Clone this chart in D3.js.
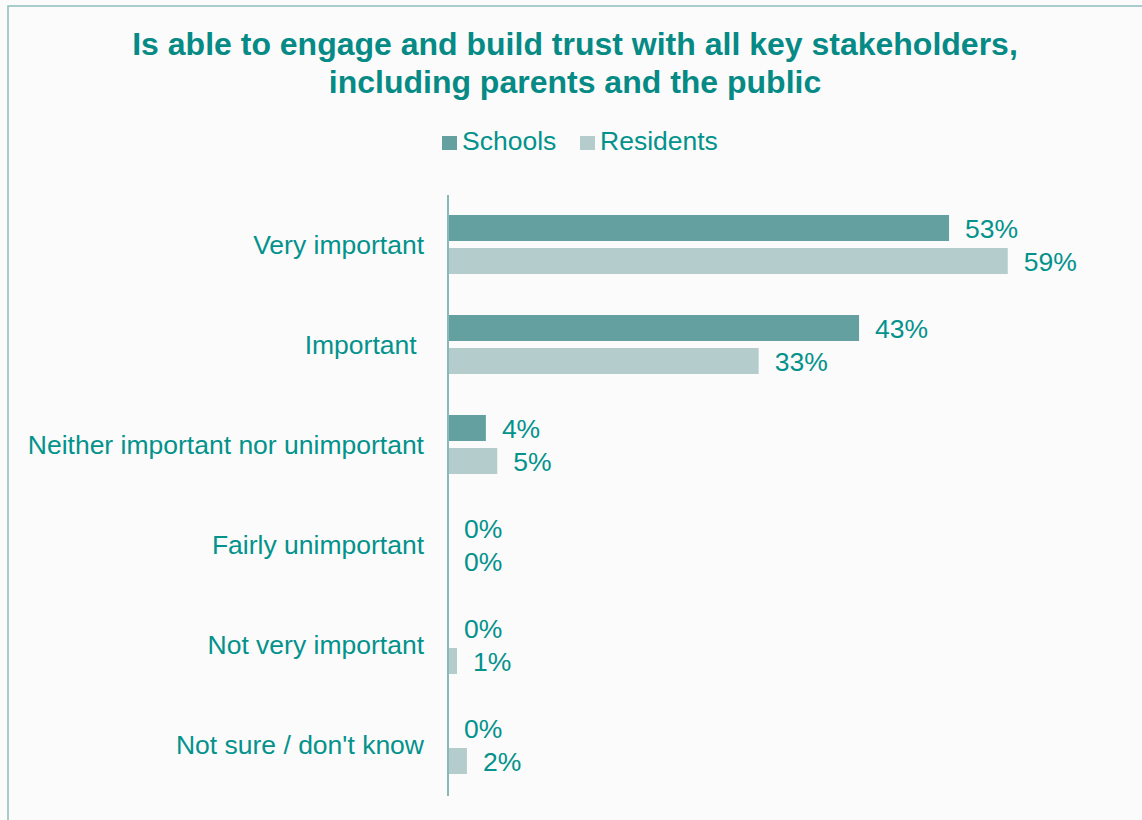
<!DOCTYPE html>
<html>
<head>
<meta charset="utf-8">
<script src="https://cdn.jsdelivr.net/npm/d3@7"></script>
<style>
  body { margin: 0; background: #fbfbfb; }
  svg { display: block; font-family: "Liberation Sans", Arial, sans-serif; }
  text { white-space: pre; }
</style>
</head>
<body>
<svg id="chart" width="1142" height="820"></svg>
<script>
// chart data (bar lengths, labels show rounded %)
const categories = ["Very important", "Important ", "Neither important nor unimportant",
    "Fairly unimportant", "Not very important", "Not sure / don't know"];
const seriesNames = ["Schools", "Residents"];
const schools = [52.9, 43.4, 4.0, 0, 0, 0];
const residents = [59.1, 32.8, 5.2, 0, 0.95, 2.0];
const titleLines = ["Is able to engage and build trust with all key stakeholders,",
    "including parents and the public"];

const colors = { Schools: "#63a09f", Residents: "#b5cccc" };
const textColor = "#03928c";

const svg = d3.select("#chart");

// frame (only top and left edges show)
svg.append("rect")
    .attr("x", 8).attr("y", 6)
    .attr("width", 1200).attr("height", 900)
    .attr("fill", "#fbfbfb")
    .attr("stroke", "#8dbdbd")
    .attr("stroke-width", 1.5);

// title
svg.append("text")
    .attr("x", 575).attr("y", 55)
    .attr("text-anchor", "middle")
    .attr("fill", "#068a85")
    .style("font-size", "32px")
    .style("font-weight", "bold")
    .selectAll("tspan")
    .data(titleLines)
    .enter().append("tspan")
    .attr("x", 575)
    .attr("dy", (d, i) => i === 0 ? 0 : 38)
    .text(d => d);

// legend
const legend = svg.append("g").attr("transform", "translate(442,150)");
const legendX = [0, 138];
seriesNames.forEach((name, i) => {
    const g = legend.append("g").attr("transform", `translate(${legendX[i]},0)`);
    g.append("rect")
        .attr("x", 0).attr("y", -14)
        .attr("width", 15).attr("height", 14)
        .attr("fill", colors[name]);
    g.append("text")
        .attr("x", 20).attr("y", 0)
        .attr("fill", textColor)
        .style("font-size", "26.5px")
        .text(name);
});

// scales
const x = d3.scaleLinear().domain([0, 70]).range([448, 1111]);
const y = d3.scaleBand().domain(categories).range([194.5, 794.5]);
const sub = d3.scaleBand().domain(seriesNames).range([20.5, 79.5]).paddingInner(7 / 33);

const rows = categories.map((c, i) => ({
    category: c,
    values: [
        { series: "Schools", value: schools[i] },
        { series: "Residents", value: residents[i] }
    ]
}));

const groups = svg.selectAll(".row")
    .data(rows)
    .enter().append("g")
    .attr("class", "row")
    .attr("transform", d => `translate(0,${y(d.category)})`);

groups.selectAll("rect")
    .data(d => d.values)
    .enter().append("rect")
    .attr("x", x(0))
    .attr("y", d => sub(d.series))
    .attr("width", d => x(d.value) - x(0))
    .attr("height", sub.bandwidth())
    .attr("fill", d => colors[d.series]);

groups.selectAll(".val")
    .data(d => d.values)
    .enter().append("text")
    .attr("class", "val")
    .attr("x", d => x(d.value) + 16)
    .attr("y", d => sub(d.series) + sub.bandwidth() / 2 + 9.5)
    .attr("fill", textColor)
    .style("font-size", "26.5px")
    .text(d => Math.round(d.value) + "%");

// category labels
svg.append("g")
    .selectAll("text")
    .data(categories)
    .enter().append("text")
    .attr("x", 424)
    .attr("y", d => y(d) + y.bandwidth() / 2 + 9)
    .attr("text-anchor", "end")
    .attr("fill", textColor)
    .style("font-size", "26.5px")
    .text(d => d);

// vertical axis line
svg.append("line")
    .attr("x1", x(0)).attr("x2", x(0))
    .attr("y1", 195).attr("y2", 796)
    .attr("stroke", "#8ab8b8")
    .attr("stroke-width", 2);
</script>
</body>
</html>
